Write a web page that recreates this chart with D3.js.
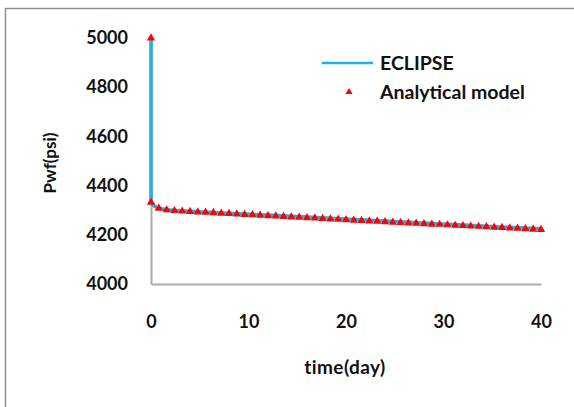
<!DOCTYPE html>
<html>
<head>
<meta charset="utf-8">
<script src="https://cdn.jsdelivr.net/npm/d3@7"></script>
<style>
  html, body { margin: 0; padding: 0; background: #fff; }
  svg { display: block; }
  text { font-family: Lato, "Open Sans", sans-serif; fill: #111; }
</style>
</head>
<body>
<div id="chart"></div>
<script>
// ECLIPSE simulation (line)
const eclipseTime = [0, 0, 0.3, 0.8, 1.6, 3, 5, 8, 12, 16, 20, 24, 28, 32, 36, 40];
const eclipsePwf = [5000, 4335, 4318, 4308, 4302, 4298, 4294, 4288, 4280, 4272, 4264, 4256, 4248, 4240, 4232, 4225];

// Analytical model (triangles)
const modelTime = [0, 0, 0.8, 1.6, 2.4, 3.2, 4.0, 4.8, 5.6, 6.4, 7.2, 8.0, 8.8, 9.6, 10.4, 11.2, 12.0,
  12.8, 13.6, 14.4, 15.2, 16.0, 16.8, 17.6, 18.4, 19.2, 20.0, 20.8, 21.6, 22.4, 23.2, 24.0, 24.8,
  25.6, 26.4, 27.2, 28.0, 28.8, 29.6, 30.4, 31.2, 32.0, 32.8, 33.6, 34.4, 35.2, 36.0, 36.8, 37.6,
  38.4, 39.2, 40.0];
const modelPwf = [5000, 4332, 4308, 4301, 4298, 4296, 4294, 4292, 4291, 4289, 4287, 4286, 4284, 4282, 4281, 4279, 4277,
  4276, 4274, 4272, 4271, 4269, 4268, 4266, 4264, 4263, 4261, 4259, 4258, 4256, 4255, 4253, 4251,
  4250, 4248, 4247, 4245, 4243, 4242, 4240, 4238, 4237, 4235, 4234, 4232, 4230, 4229, 4227, 4226,
  4224, 4222, 4221];

const xTicks = [0, 10, 20, 30, 40];
const yTicks = [4000, 4200, 4400, 4600, 4800, 5000];
const seriesNames = ["ECLIPSE", "Analytical model"];

const width = 574, height = 407;
const margin = { left: 151, right: 33, top: 38, bottom: 123 };

const svg = d3.select("#chart").append("svg")
  .attr("width", width)
  .attr("height", height);

// outer frame (runs off the right / bottom edge)
svg.append("rect")
  .attr("x", 5.5).attr("y", 8.5)
  .attr("width", width + 20).attr("height", height + 20)
  .attr("fill", "none").attr("stroke", "#8f8f8f").attr("stroke-width", 1.5);

const x = d3.scaleLinear().domain([0, 40]).range([margin.left, width - margin.right]);
const y = d3.scaleLinear().domain([4000, 5000]).range([height - margin.bottom, margin.top]);

// axes
const xAxis = svg.append("g")
  .attr("transform", `translate(0,${y(4000)})`)
  .call(d3.axisBottom(x).tickValues(xTicks).tickSize(0).tickPadding(31).tickFormat(d3.format("d")));
const yAxis = svg.append("g")
  .attr("transform", `translate(${x(0)},0)`)
  .call(d3.axisLeft(y).tickValues(yTicks).tickSize(0).tickPadding(23).tickFormat(d3.format("d")));

[xAxis, yAxis].forEach(g => {
  g.select(".domain").attr("stroke", "#ababab").attr("stroke-width", 2);
  g.selectAll("text")
    .style("font-family", "Lato, sans-serif")
    .style("font-size", "18px")
    .style("font-weight", "bold")
    .attr("fill", "#222");
});

// axis titles
svg.append("text")
  .attr("x", 345).attr("y", 374)
  .attr("text-anchor", "middle")
  .style("font-size", "19px").style("font-weight", "bold")
  .style("letter-spacing", "0.4px")
  .text("time(day)");

svg.append("text")
  .attr("transform", `translate(56,163) rotate(-90)`)
  .attr("text-anchor", "middle")
  .style("font-size", "17px").style("font-weight", "bold")
  .text("Pwf(psi)");

// ECLIPSE line
const line = d3.line()
  .x((d, i) => x(eclipseTime[i]))
  .y(d => y(d));

svg.append("path")
  .datum(eclipsePwf)
  .attr("d", line)
  .attr("fill", "none")
  .attr("stroke", "#22aee6")
  .attr("stroke-width", 3.5);

// Analytical model triangles
const tri = d3.symbol().type(d3.symbolTriangle).size(30);
svg.append("g").selectAll("path")
  .data(modelPwf)
  .join("path")
  .attr("d", tri)
  .attr("transform", (d, i) => `translate(${x(modelTime[i])},${y(d)})`)
  .attr("fill", "#ff0000");

// legend
const legend = svg.append("g");
legend.append("line")
  .attr("x1", 322).attr("x2", 373)
  .attr("y1", 63).attr("y2", 63)
  .attr("stroke", "#22aee6").attr("stroke-width", 2.5);
legend.append("path")
  .attr("d", d3.symbol().type(d3.symbolTriangle).size(22))
  .attr("transform", "translate(349,92)")
  .attr("fill", "#ff0000");
legend.selectAll("text.lbl")
  .data(seriesNames)
  .join("text")
  .attr("class", "lbl")
  .attr("x", 380)
  .attr("y", (d, i) => 63 + i * 29)
  .attr("dy", "0.35em")
  .style("font-size", "19.5px")
  .style("font-weight", "bold")
  .text(d => d);
</script>
</body>
</html>
